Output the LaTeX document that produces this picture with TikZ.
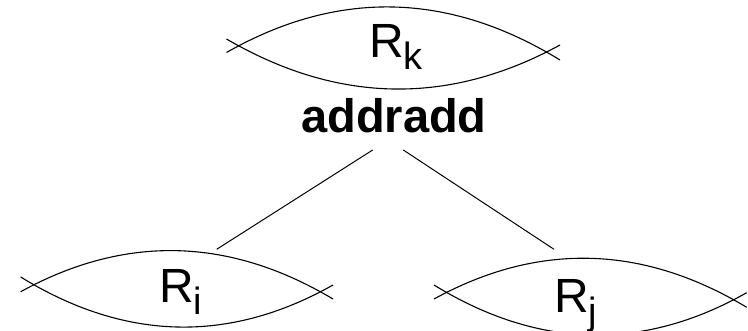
\documentclass[tikz,border=0pt]{standalone}
\usepackage{fontspec}
\setmainfont{Liberation Sans}
\usetikzlibrary{calc}
\tikzset{
  arcline/.style={line width=1.1pt, black},
  conn/.style={line width=1pt, black},
  lbl/.style={font=\fontsize{48}{48}\selectfont, inner sep=0pt, anchor=base west},
  opl/.style={font=\bfseries\fontsize{47}{47}\selectfont, inner sep=0pt, anchor=base},
}
\newcommand{\lensarc}[3]{%
  \draw[arcline] (#1) .. controls ($(#1)!2/3!(#2)$) and ($(#3)!2/3!(#2)$) .. (#3);}
\newcommand{\subtxt}[1]{\raisebox{-12pt}{\fontsize{38}{38}\selectfont #1}}
\begin{document}
\begin{tikzpicture}[x=1pt,y=-1pt]
\useasboundingbox (0,0) rectangle (748,331);
\clip (0,0) rectangle (748,331);
% top lens
\lensarc{226.5,52.5}{393.25,-42.25}{560,60}
\lensarc{226.5,39}{393.25,136}{560,45}
% bottom-left lens
\lensarc{20.7,291.7}{176.9,206}{333,299}
\lensarc{20.7,277}{176.9,373}{333,285}
% bottom-right lens
\lensarc{434,299}{590.35,213.5}{746.7,307.3}
\lensarc{434,285}{590.35,381}{746.7,292.7}
% labels
\node[lbl] (rk) at (369,58) {R\subtxt{k}};
\node[lbl] (ri) at (159,303) {R\subtxt{i}};
\node[lbl] (rj) at (554,313) {R\subtxt{j}};
\node[opl] (op) at (394,133) {addradd};
% connectors
\coordinate (opL) at (372.7,150);
\coordinate (opR) at (403.3,150);
\coordinate (riT) at (216.7,249.3);
\coordinate (rjT) at (554,249.3);
\draw[conn] (opL) -- (riT);
\draw[conn] (opR) -- (rjT);
\end{tikzpicture}
\end{document}
